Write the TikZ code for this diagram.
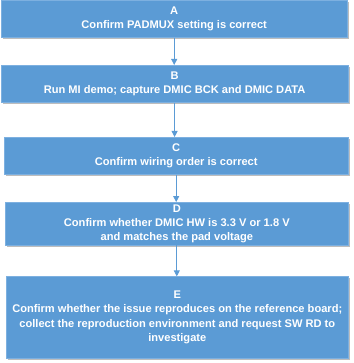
\documentclass[tikz,border=0pt]{standalone}
\usepackage{fontspec}
\setmainfont{Liberation Sans}
\usepackage{xcolor}
\usetikzlibrary{arrows.meta, shadows}
\definecolor{stepblue}{HTML}{5B9BD5}
\definecolor{stepedge}{HTML}{7DB0E0}
\definecolor{shadowgray}{HTML}{BDBDBD}

\begin{document}
\begin{tikzpicture}[
  x=1pt, y=-1pt,
  stepbox/.style={
    rectangle, draw=stepedge, line width=0.6pt, fill=stepblue,
    text=white, font=\fontsize{11.1}{14.3}\selectfont\bfseries,
    align=center, inner sep=0pt,
    drop shadow={shadow xshift=1.8pt, shadow yshift=-1.8pt,
      fill=shadowgray, opacity=1}
  },
  arr/.style={-{Triangle[length=6pt, width=6pt]}, line width=0.8pt, color=stepblue},
]
\useasboundingbox (0,0) rectangle (353,363);

% A
\node[stepbox, minimum width=346.5pt, minimum height=37pt] (a) at (174.2,19)
  {A\\Confirm PADMUX setting is correct};

% B
\node[stepbox, minimum width=347pt, minimum height=37.4pt] (b) at (174.6,84)
  {B\\Run MI demo; capture DMIC BCK and DMIC DATA};

% C
\node[stepbox, minimum width=343.7pt, minimum height=37pt] (c) at (176.2,155.8)
  {C\\Confirm wiring order is correct};

% D
\node[stepbox, minimum width=342.3pt, minimum height=42.7pt] (d) at (176.8,223.7)
  {D\\Confirm whether DMIC HW is 3.3 V or 1.8 V\\and matches the pad voltage};

% E
\node[stepbox, minimum width=342pt, minimum height=81.3pt] (e) at (177.3,317.3)
  {E\\Confirm whether the issue reproduces on the reference board;\\
   collect the reproduction environment and request SW RD to\\investigate};

% Arrows
\draw[arr] (a.south) -- (a.south |- b.north);
\draw[arr] (b.south) -- (b.south |- c.north);
\draw[arr] (c.south) -- (c.south |- d.north);
\draw[arr] (d.south) -- (d.south |- e.north);

\end{tikzpicture}
\end{document}
